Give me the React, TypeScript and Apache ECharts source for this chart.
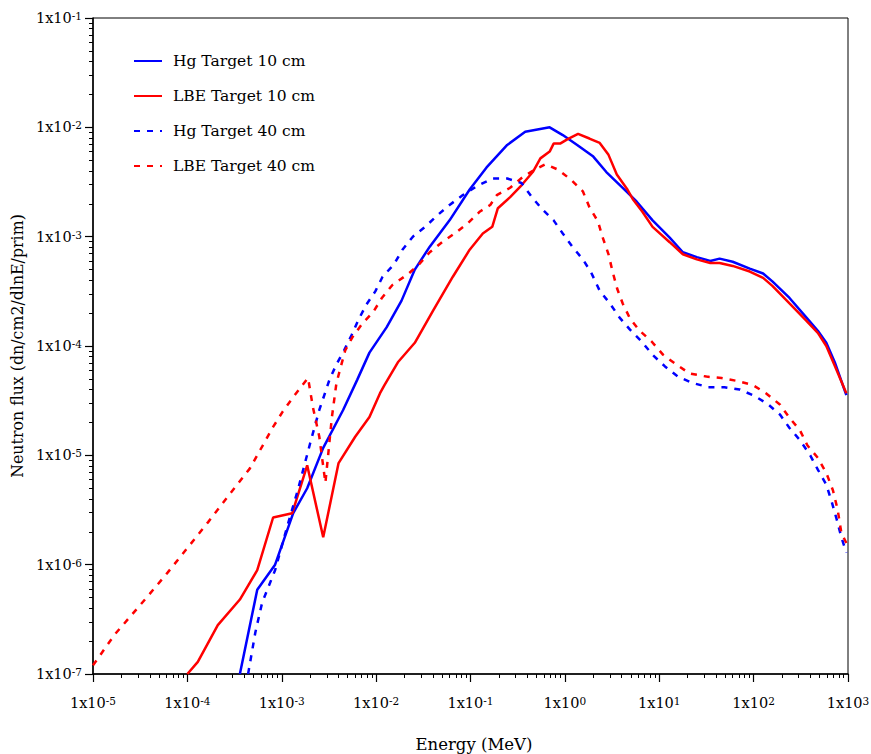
import React, { useEffect, useRef } from "react";
import * as echarts from "echarts";

// ---- Data (Energy in MeV, flux in dn/cm2/dlnE/prim) ----
const hg10Energy = [3.6e-4, 5.5e-4, 8.5e-4, 1.32e-3, 1.86e-3, 2.75e-3, 4.47e-3, 6.3e-3, 8.5e-3, 1.29e-2, 1.86e-2, 2.57e-2, 3.7e-2, 6.0e-2, 9.8e-2, 0.148, 0.245, 0.38, 0.69, 0.95, 1.35, 2.0, 2.75, 4.1, 5.75, 8.5, 12.9, 17.8, 25, 34.7, 43.6, 60, 91, 126, 158, 240, 363, 479, 589, 724, 960];
const hg10Flux = [1e-7, 5.9e-7, 1.0e-6, 2.95e-6, 5.0e-6, 1.17e-5, 2.6e-5, 4.9e-5, 8.7e-5, 1.48e-4, 2.6e-4, 5.0e-4, 8.1e-4, 1.41e-3, 2.7e-3, 4.3e-3, 6.9e-3, 9.1e-3, 1.0e-2, 8.5e-3, 6.9e-3, 5.4e-3, 3.9e-3, 2.8e-3, 2.1e-3, 1.41e-3, 9.8e-4, 7.2e-4, 6.5e-4, 6.0e-4, 6.3e-4, 5.9e-4, 5.1e-4, 4.6e-4, 3.9e-4, 2.75e-4, 1.82e-4, 1.38e-4, 1.07e-4, 7.1e-5, 3.55e-5];

const lbe10Energy = [1.0e-4, 1.29e-4, 2.1e-4, 3.6e-4, 5.5e-4, 8.1e-4, 1.29e-3, 1.86e-3, 2.75e-3, 4.0e-3, 6.0e-3, 8.5e-3, 1.1e-2, 1.23e-2, 1.7e-2, 2.57e-2, 4.0e-2, 6.5e-2, 9.8e-2, 0.135, 0.17, 0.195, 0.263, 0.347, 0.457, 0.55, 0.69, 0.76, 0.89, 1.07, 1.38, 1.82, 2.34, 2.9, 3.55, 4.6, 5.25, 6.6, 8.5, 12.9, 17.8, 25, 34.7, 43.6, 60, 91, 126, 158, 240, 363, 479, 589, 724, 960];
const lbe10Flux = [1e-7, 1.29e-7, 2.8e-7, 4.8e-7, 8.9e-7, 2.7e-6, 2.95e-6, 8.1e-6, 1.78e-6, 8.5e-6, 1.48e-5, 2.24e-5, 3.7e-5, 4.4e-5, 7.1e-5, 1.07e-4, 2.1e-4, 4.3e-4, 7.6e-4, 1.07e-3, 1.23e-3, 1.82e-3, 2.3e-3, 2.95e-3, 3.9e-3, 5.2e-3, 6.0e-3, 7.1e-3, 7.1e-3, 7.8e-3, 8.7e-3, 7.9e-3, 7.2e-3, 5.6e-3, 3.7e-3, 2.7e-3, 2.2e-3, 1.7e-3, 1.23e-3, 8.9e-4, 6.9e-4, 6.2e-4, 5.75e-4, 5.75e-4, 5.4e-4, 4.8e-4, 4.2e-4, 3.55e-4, 2.45e-4, 1.7e-4, 1.32e-4, 1.0e-4, 6.6e-5, 3.7e-5];

const hg40Energy = [4.4e-4, 5.25e-4, 6.2e-4, 8.5e-4, 1.17e-3, 1.48e-3, 2.0e-3, 2.5e-3, 3.2e-3, 3.8e-3, 4.57e-3, 5.5e-3, 6.5e-3, 7.9e-3, 9.8e-3, 1.17e-2, 1.55e-2, 1.9e-2, 2.45e-2, 3.3e-2, 4.5e-2, 6.0e-2, 8.3e-2, 0.117, 0.17, 0.245, 0.347, 0.447, 0.575, 0.76, 0.95, 1.2, 1.55, 1.9, 2.34, 3.0, 3.8, 4.9, 6.5, 8.5, 11.5, 15.8, 22.4, 33, 49, 71, 102, 141, 191, 240, 309, 398, 479, 589, 676, 759, 851, 960];
const hg40Flux = [1e-7, 2.4e-7, 4.5e-7, 8.9e-7, 2.4e-6, 4.8e-6, 1.29e-5, 2.6e-5, 4.9e-5, 6.8e-5, 9.1e-5, 1.26e-4, 1.74e-4, 2.4e-4, 3.16e-4, 4.3e-4, 5.6e-4, 7.6e-4, 1.0e-3, 1.23e-3, 1.58e-3, 1.95e-3, 2.4e-3, 2.9e-3, 3.4e-3, 3.4e-3, 3.1e-3, 2.3e-3, 1.78e-3, 1.41e-3, 1.07e-3, 8.1e-4, 6.2e-4, 4.7e-4, 3.2e-4, 2.45e-4, 1.82e-4, 1.41e-4, 1.1e-4, 8.3e-5, 6.5e-5, 5.25e-5, 4.6e-5, 4.2e-5, 4.2e-5, 4.0e-5, 3.5e-5, 2.95e-5, 2.35e-5, 1.78e-5, 1.38e-5, 1.0e-5, 7.4e-6, 5.4e-6, 3.7e-6, 2.6e-6, 1.78e-6, 1.29e-6];

const lbe40Energy = [1e-5, 1.7e-5, 3.7e-5, 6.2e-5, 1.02e-4, 1.66e-4, 2.8e-4, 4.6e-4, 8.1e-4, 1.02e-3, 1.32e-3, 1.9e-3, 2.14e-3, 2.5e-3, 2.9e-3, 3.4e-3, 3.8e-3, 4.7e-3, 5.6e-3, 7.2e-3, 9.3e-3, 1.15e-2, 1.48e-2, 2.14e-2, 2.75e-2, 3.7e-2, 5.0e-2, 6.8e-2, 9.3e-2, 0.126, 0.162, 0.19, 0.263, 0.363, 0.48, 0.62, 0.85, 1.17, 1.55, 1.82, 2.24, 2.5, 2.9, 3.2, 3.6, 4.1, 4.9, 6.2, 8.3, 11, 15.1, 21, 31.6, 45.7, 66, 98, 135, 191, 240, 309, 372, 479, 589, 692, 776, 851, 960];
const lbe40Flux = [1.2e-7, 2.3e-7, 5.0e-7, 8.5e-7, 1.45e-6, 2.45e-6, 4.4e-6, 7.6e-6, 1.82e-5, 2.5e-5, 3.4e-5, 5.1e-5, 2.75e-5, 1.48e-5, 5.6e-6, 2.24e-5, 4.6e-5, 9.1e-5, 1.2e-4, 1.62e-4, 2.04e-4, 2.75e-4, 3.6e-4, 4.5e-4, 5.4e-4, 7.2e-4, 8.9e-4, 1.07e-3, 1.32e-3, 1.7e-3, 1.95e-3, 2.4e-3, 2.8e-3, 3.55e-3, 4.1e-3, 4.6e-3, 4.1e-3, 3.3e-3, 2.6e-3, 1.86e-3, 1.38e-3, 1.0e-3, 6.9e-4, 4.8e-4, 3.3e-4, 2.45e-4, 1.78e-4, 1.38e-4, 1.1e-4, 8.3e-5, 6.8e-5, 5.6e-5, 5.25e-5, 5.1e-5, 4.8e-5, 4.4e-5, 3.7e-5, 2.9e-5, 2.2e-5, 1.7e-5, 1.23e-5, 9.5e-6, 6.9e-6, 4.8e-6, 3.2e-6, 1.95e-6, 1.58e-6];

const seriesNames = ["Hg Target 10 cm", "LBE Target 10 cm", "Hg Target 40 cm", "LBE Target 40 cm"];

// Axis tick values (decades)
const xDecadeExponents = [-5, -4, -3, -2, -1, 0, 1, 2, 3];
const yDecadeExponents = [-7, -6, -5, -4, -3, -2, -1];
const minorMultipliers = [2, 3, 4, 5, 6, 7, 8, 9];

const FONT = "DejaVu Serif";

function zip(e: number[], f: number[]) {
  return e.map((v, i) => [v, f[i]]);
}
function majors(exps: number[]) {
  return exps.map((p) => Math.pow(10, p));
}
function minors(exps: number[]) {
  const out: number[] = [];
  for (let i = 0; i < exps.length - 1; i++) {
    for (const m of minorMultipliers) out.push(m * Math.pow(10, exps[i]));
  }
  return out;
}

export default function App() {
  const ref = useRef<HTMLDivElement>(null);
  useEffect(() => {
    const chart = echarts.init(ref.current as HTMLDivElement, null, { renderer: "svg" });
    const fmt = (v: number) => {
      const p = Math.round(Math.log10(v));
      return `{b|1x10}{s|${p}}`;
    };
    const rich = {
      b: { fontFamily: FONT, fontSize: 14.5, color: "#000", lineHeight: 15, padding: [5, 0, 0, 0], verticalAlign: "bottom" },
      s: { fontFamily: FONT, fontSize: 10.5, color: "#000", lineHeight: 11, verticalAlign: "top" },
    };
    const xMajor = majors(xDecadeExponents);
    const xMinor = minors(xDecadeExponents);
    const yMajor = majors(yDecadeExponents);
    const yMinor = minors(yDecadeExponents);
    const axisCommon = { splitLine: { show: false }, splitArea: { show: false } };
    const mkSeries = (name: string, data: number[][], color: string, dashed: boolean) => ({
      name,
      type: "line",
      xAxisIndex: 0,
      yAxisIndex: 0,
      data,
      symbol: "none",
      showSymbol: false,
      clip: true,
      lineStyle: { color, width: 2.5, type: dashed ? [6, 7] : "solid" },
      itemStyle: { color },
      emphasis: { disabled: true },
    });

    chart.setOption({
      animation: false,
      backgroundColor: "#fff",
      textStyle: { fontFamily: FONT },
      grid: {
        left: 93, right: 23, top: 18, bottom: 80,
        containLabel: false, outerBoundsMode: "none",
        show: true, borderColor: "#000", borderWidth: 1, backgroundColor: "transparent",
      },
      legend: {
        orient: "vertical",
        left: 133,
        top: 51,
        padding: 0,
        itemWidth: 28,
        itemHeight: 14,
        itemGap: 15,
        selectedMode: false,
        itemStyle: { opacity: 0 },
        textStyle: { fontFamily: FONT, fontSize: 15.5, color: "#000", lineHeight: 20, padding: [0, 0, 0, 6] },
        data: seriesNames,
      },
      xAxis: [
        {
          type: "log",
          logBase: 10,
          min: 1e-5,
          max: 1e3,
          position: "bottom",
          name: "Energy (MeV)",
          nameLocation: "middle",
          nameGap: 62,
          nameTextStyle: { fontFamily: FONT, fontSize: 16.5, color: "#000", padding: [0, 0, 0, 7] },
          axisLine: { show: true, onZero: false, lineStyle: { color: "#000", width: 1.5 } },
          axisTick: { show: true, inside: false, length: 8, customValues: xMajor, lineStyle: { color: "#000", width: 1.2 } },
          axisLabel: { show: true, customValues: xMajor, formatter: fmt, rich, margin: 21, color: "#000" },
          ...axisCommon,
        },
        {
          type: "log",
          logBase: 10,
          min: 1e-5,
          max: 1e3,
          position: "bottom",
          axisLine: { show: false },
          axisTick: { show: true, inside: false, length: 4, customValues: xMinor, lineStyle: { color: "#000", width: 1 } },
          axisLabel: { show: false },
          ...axisCommon,
        },
      ],
      yAxis: [
        {
          type: "log",
          logBase: 10,
          min: 1e-7,
          max: 1e-1,
          position: "left",
          name: "Neutron flux (dn/cm2/dlnE/prim)",
          nameLocation: "middle",
          nameGap: 62,
          nameTextStyle: { fontFamily: FONT, fontSize: 15.8, color: "#000" },
          axisLine: { show: true, onZero: false, lineStyle: { color: "#000", width: 1.5 } },
          axisTick: { show: true, inside: false, length: 8, customValues: yMajor, lineStyle: { color: "#000", width: 1.2 } },
          axisLabel: { show: true, customValues: yMajor, formatter: fmt, rich, margin: 11, color: "#000" },
          ...axisCommon,
        },
        {
          type: "log",
          logBase: 10,
          min: 1e-7,
          max: 1e-1,
          position: "left",
          axisLine: { show: false },
          axisTick: { show: true, inside: false, length: 4, customValues: yMinor, lineStyle: { color: "#000", width: 1 } },
          axisLabel: { show: false },
          ...axisCommon,
        },
      ],
      series: [
        mkSeries(seriesNames[0], zip(hg10Energy, hg10Flux), "#0000ff", false),
        mkSeries(seriesNames[1], zip(lbe10Energy, lbe10Flux), "#ff0000", false),
        mkSeries(seriesNames[2], zip(hg40Energy, hg40Flux), "#0000ff", true),
        mkSeries(seriesNames[3], zip(lbe40Energy, lbe40Flux), "#ff0000", true),
      ],
    });
    return () => chart.dispose();
  }, []);
  return (
    <div
      ref={ref}
      style={{ position: "fixed", left: 0, top: 0, width: 871, height: 754, background: "#fff" }}
    />
  );
}
